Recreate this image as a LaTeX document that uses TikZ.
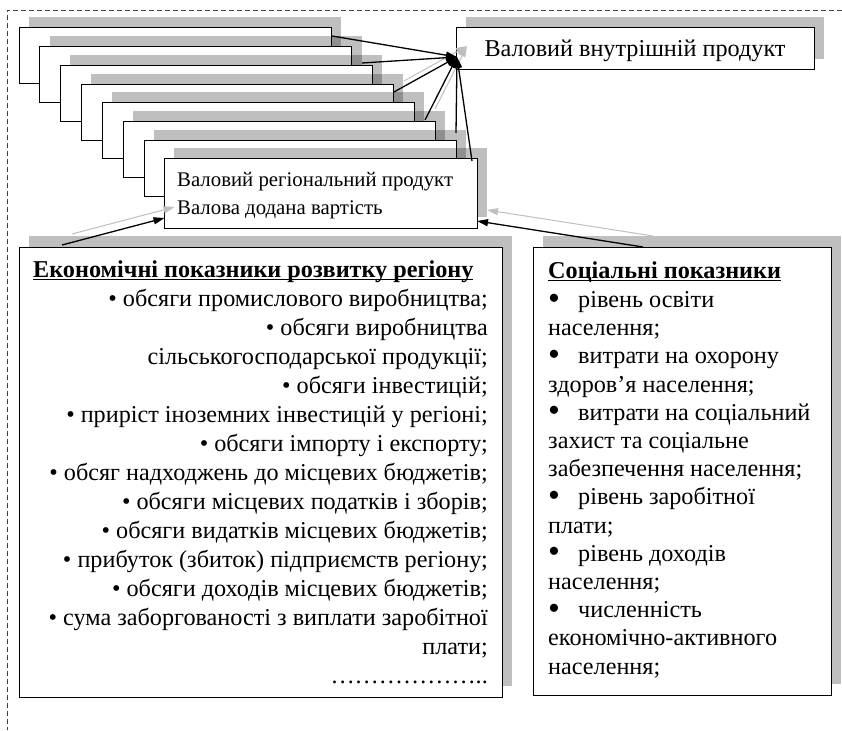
\documentclass[tikz,border=0pt]{standalone}
\usepackage{fontspec}
\setmainfont{Liberation Serif}
\usetikzlibrary{arrows.meta,shadows}

% underline sitting just below the baseline
\newcommand\headline[1]{\setbox0\hbox{#1}\rlap{\rule[-3.2pt]{\wd0}{1.1pt}}\box0}
\newcommand\bulitem{\makebox[30pt][l]{\raisebox{-1.6pt}{\scalebox{1.4}{•}}}}

\tikzset{
  panel/.style={draw=black, line width=1pt, fill=white, anchor=north west,
    inner sep=0pt, outer sep=0pt,
    general shadow={fill=black, fill opacity=0.25, shadow xshift=10pt, shadow yshift=11pt}},
  layer/.style={panel, minimum width=312pt, minimum height=55.5pt},
  frame/.style={draw=black!75, line width=0.8pt, dash pattern=on 5pt off 3pt},
  conn/.style={draw=black, line width=1.3pt, -{Triangle[length=11pt,width=7pt]}},
  connshade/.style={draw=black!25, line width=1pt, -{Triangle[length=11pt,width=7pt]}},
  listtext/.style={font=\fontsize{24.2}{28}\selectfont, inner sep=0pt},
  headtext/.style={font=\bfseries\fontsize{24.2}{28}\selectfont, inner sep=0pt},
}

\begin{document}
\begin{tikzpicture}[x=1pt, y=-1pt]
  \useasboundingbox (0,0) rectangle (842,730);

  % dashed outer frame (top and left edges)
  \draw[frame] (842,10) -- (7,10) -- (7,730);

  % stack of layered boxes
  \node[layer] (b1) at (19,28) {};
  \node[layer] (b2) at (39.5,47) {};
  \node[layer] (b3) at (60,66) {};
  \node[layer] (b4) at (81,85) {};
  \node[layer] (b5) at (102,103) {};
  \node[layer] (b6) at (123,122) {};
  \node[layer] (b7) at (144,141) {};
  \node[panel, minimum width=313pt, minimum height=69pt] (b8) at (164,159) {};
  \node[anchor=base west, font=\fontsize{20.8}{28}\selectfont, inner sep=0pt] (b8a) at (177,186)
    {Валовий регіональний продукт};
  \node[anchor=base west, font=\fontsize{20.8}{28}\selectfont, inner sep=0pt] (b8b) at (177,214)
    {Валова додана вартість};

  % national level box
  \node[panel, minimum width=358pt, minimum height=42pt] (gdp) at (456,28) {};
  \node[font=\fontsize{24.2}{28}\selectfont, inner sep=0pt, anchor=base] (gdptext) at (635,57)
    {Валовий внутрішній продукт};

  % economic indicators
  \node[panel, minimum width=483pt, minimum height=450pt] (econ) at (19,247) {};
  \node[headtext, anchor=base west] (econhead) at (33,277)
    {\headline{Економічні показники розвитку регіону}};
  \foreach \t [count=\i] in {
      {• обсяги промислового виробництва;},
      {• обсяги виробництва},
      {сільськогосподарської продукції;},
      {• обсяги інвестицій;},
      {• приріст іноземних інвестицій у регіоні;},
      {• обсяги імпорту і експорту;},
      {• обсяг надходжень до місцевих бюджетів;},
      {• обсяги місцевих податків і зборів;},
      {• обсяги видатків місцевих бюджетів;},
      {• прибуток (збиток) підприємств регіону;},
      {• обсяги доходів місцевих бюджетів;},
      {• сума заборгованості з виплати заробітної},
      {плати;},
      {………………..}}
    \node[listtext, anchor=base east] (e\i) at (488,{306+(\i-1)*29}) {\t};

  % social indicators
  \node[panel, minimum width=298pt, minimum height=448pt] (soc) at (533,247) {};
  \node[headtext, anchor=base west] (sochead) at (548,278)
    {\headline{Соціальні показники}};
  \foreach \t [count=\i] in {
      {\bulitem рівень освіти},
      {населення;},
      {\bulitem витрати на охорону},
      {здоров’я населення;},
      {\bulitem витрати на соціальний},
      {захист та соціальне},
      {забезпечення населення;},
      {\bulitem рівень заробітної},
      {плати;},
      {\bulitem рівень доходів},
      {населення;},
      {\bulitem численність},
      {економічно-активного},
      {населення;}}
    \node[listtext, anchor=base west] (s\i) at (548,{307.5+(\i-1)*28.2}) {\t};

  % connector end points
  \coordinate (hub) at (457,57);
  \coordinate (a1) at (332,36);
  \coordinate (a2) at (362,63);
  \coordinate (a3) at (394,92);
  \coordinate (a4) at (425,120);
  \coordinate (a5) at (456,133);
  \coordinate (a6) at (472,161);
  \coordinate (le) at (62,245);
  \coordinate (li) at (164.5,218);
  \coordinate (re) at (643,247);
  \coordinate (ri) at (477,221);

  % shadows of some connectors
  \draw[connshade] ([xshift=10pt,yshift=11pt]a3) -- ([xshift=10pt,yshift=11pt]hub);
  \draw[connshade] ([xshift=10pt,yshift=11pt]a4) -- ([xshift=10pt,yshift=11pt]hub);
  \draw[connshade] ([xshift=10pt,yshift=11pt]le) -- ([xshift=10pt,yshift=11pt]li);
  \draw[connshade] ([xshift=10pt,yshift=11pt]re) -- ([xshift=10pt,yshift=11pt]ri);

  % connectors
  \draw[conn] (a1) -- (hub);
  \draw[conn] (a2) -- (hub);
  \draw[conn] (a3) -- (hub);
  \draw[conn] (a4) -- (hub);
  \draw[conn] (a5) -- (hub);
  \draw[conn] (a6) -- (hub);
  \draw[conn] (le) -- (li);
  \draw[conn] (re) -- (ri);
\end{tikzpicture}
\end{document}
